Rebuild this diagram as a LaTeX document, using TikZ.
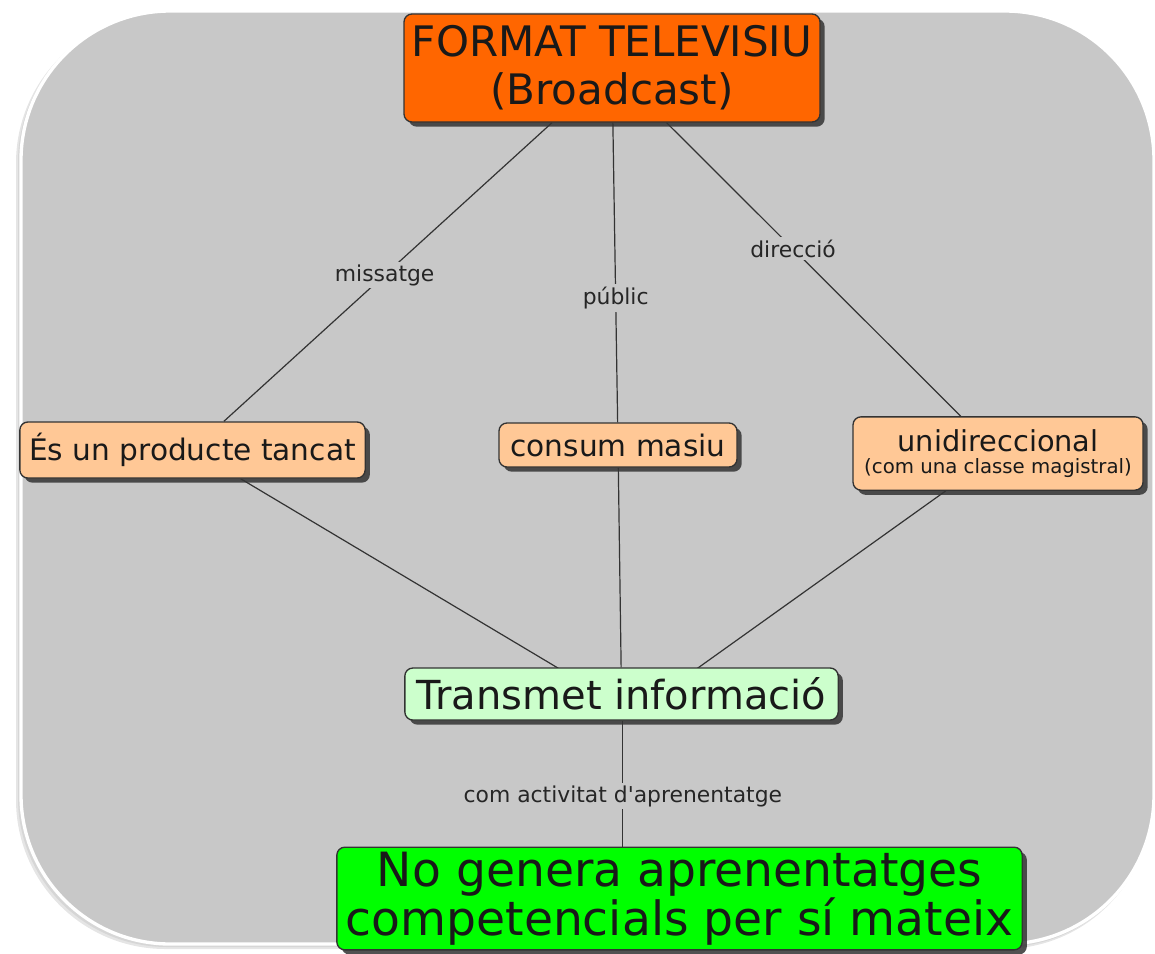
\documentclass[tikz,border=0pt]{standalone}
\usepackage{fontspec}
\setmainfont{DejaVu Sans}
\usepackage{tikz}
\usetikzlibrary{shadows}
\usetikzlibrary{positioning}

\definecolor{bggray}{HTML}{C8C8C8}
\definecolor{orangebox}{HTML}{FF6600}
\definecolor{peach}{HTML}{FFC896}
\definecolor{mint}{HTML}{CCFFCC}
\definecolor{limebox}{HTML}{00FF00}

\pgfdeclarelayer{back}
\pgfdeclarelayer{edges}
\pgfsetlayers{back,edges,main}

\tikzset{
  concept/.style={draw=black!80, line width=1pt, rounded corners=6pt, align=center,
    inner sep=0pt, text=black!90,
    drop shadow={shadow xshift=3.5pt, shadow yshift=-3.5pt, fill=black!80, opacity=0.85}},
  link/.style={fill=bggray, inner sep=2pt, text=black!85, font=\fontsize{16.4}{19}\selectfont},
  conn/.style={draw=black!80, line width=0.9pt}
}

\begin{document}
\begin{tikzpicture}[x=0.75pt, y=-0.75pt]
\useasboundingbox (0,0) rectangle (1155,953);

% Background
\begin{pgfonlayer}{back}
\fill[black!10, rounded corners=112pt] (16,14) rectangle (1152,949);
\fill[black!16, rounded corners=112pt] (18,13) rectangle (1153,947);
\draw[white, line width=2.5pt, fill=bggray, rounded corners=112pt] (21,11) rectangle (1154,944);
\end{pgfonlayer}

% Define nodes
\node[concept, fill=orangebox, minimum width=312pt, minimum height=81pt,
  font=\fontsize{31.5}{36}\selectfont] (format) at (612,68)
  {FORMAT TELEVISIU\\(Broadcast)};
\node[concept, fill=peach, minimum width=259pt, minimum height=42pt,
  font=\fontsize{22.2}{25}\selectfont] (tancat) at (192.5,450) {És un producte tancat};
\node[concept, fill=peach, minimum width=178.5pt, minimum height=33pt,
  font=\fontsize{22.2}{25}\selectfont] (consum) at (618,445) {consum masiu};
\node[concept, fill=peach, minimum width=217.5pt, minimum height=55pt] (unidir) at (998,453.5)
  {{\fontsize{21.6}{23}\selectfont unidireccional}\\[5pt]{\fontsize{14.8}{17}\selectfont (com una classe magistral)}};
\node[concept, fill=mint, minimum width=325pt, minimum height=39pt,
  font=\fontsize{30}{36}\selectfont] (transmet) at (621.5,694) {Transmet informació};
\node[concept, fill=limebox, minimum width=514pt, minimum height=77pt,
  font=\fontsize{35.4}{35.4}\selectfont] (nogenera) at (679.5,898.5)
  {No genera aprenentatges\\competencials per sí mateix};

% Edges
\begin{pgfonlayer}{edges}
\draw[conn] (format) -- node[link, pos=0.51] {missatge} (tancat);
\draw[conn] (format) -- node[link, pos=0.585] {públic} (consum);
\draw[conn] (format) -- node[link, pos=0.43] {direcció} (unidir);
\draw[conn] (tancat) -- ([xshift=-15pt]transmet.center);
\draw[conn] (consum) -- (transmet);
\draw[conn] (unidir) -- ([xshift=30pt]transmet.center);
\draw[conn] ([xshift=1pt]transmet.south) -- ([xshift=1pt]transmet.south |- nogenera.north)
  node[link, pos=0.6] {com activitat d\textquotesingle aprenentatge};
\end{pgfonlayer}
\end{tikzpicture}
\end{document}
